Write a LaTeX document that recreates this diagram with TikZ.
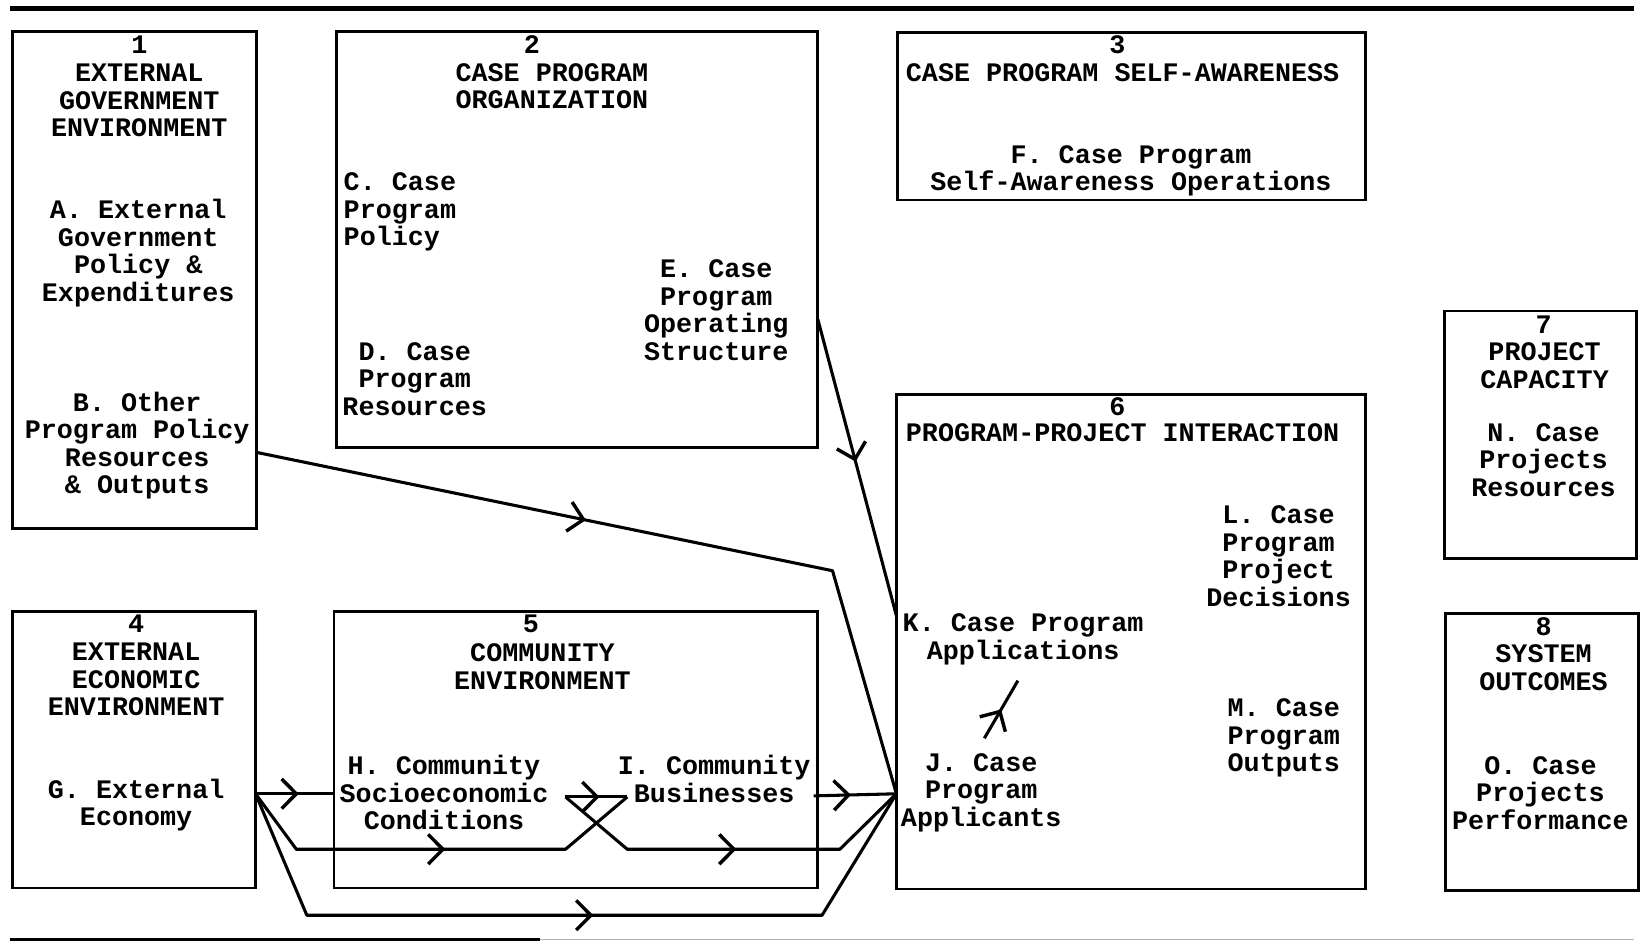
\documentclass[tikz,border=0pt]{standalone}
\usepackage{fontspec}
\setmonofont{Liberation Mono}
\usetikzlibrary{arrows.meta, positioning, calc, fit, decorations.markings}

\begin{document}
\begin{tikzpicture}[
  x=0.03cm, y=-0.03cm,
  box/.style={draw, line width=2.3pt, inner sep=0pt},
  lbl/.style={align=center, inner sep=0pt,
              font=\fontsize{21.8pt}{22.4pt}\selectfont\ttfamily\bfseries},
  flow/.style={line width=2.5pt, line join=round},
  midarrow/.style={postaction={decorate}, decoration={markings,
      mark=at position #1 with {\arrow[line width=2.8pt]{Straight Barb[length=4.2mm, width=8.5mm]}}}}
]
  \useasboundingbox (0,0) rectangle (1568,901);

  % ── Rules ──────────────────────────────────────────────────────────────────
  \draw[line width=4.5pt] (10,8) -- (1560,8);
  \draw[line width=2.5pt] (10,897) -- (516,897);
  \draw[line width=1.2pt, gray!60] (516,897) -- (1560,897);

  % ── Boxes ──────────────────────────────────────────────────────────────────
  \node[box, fit={(12,30) (245,505)}]    (box1) {};
  \node[box, fit={(321,30) (781,427)}]   (box2) {};
  \node[box, fit={(857,31) (1304,191)}]  (box3) {};
  \node[box, fit={(12,584) (244,848)}]   (box4) {};
  \node[box, fit={(319,584) (781,848)}]  (box5) {};
  \node[box, fit={(856,377) (1304,849)}] (box6) {};
  \node[box, fit={(1379,297) (1563,533)}] (box7) {};
  \node[box, fit={(1380,586) (1565,850)}] (box8) {};

  % ── Box 1 ──────────────────────────────────────────────────────────────────
  \node[lbl] (n1) at (133,43)    {1};
  \node[lbl] (t1) at (133,96)    {EXTERNAL\\GOVERNMENT\\ENVIRONMENT};
  \node[lbl] (tA) at (132,241.5) {A. External\\Government\\Policy \&\\Expenditures};
  \node[lbl] (tB) at (131,425.5) {B. Other\\Program Policy\\Resources\\\& Outputs};

  % ── Box 2 ──────────────────────────────────────────────────────────────────
  \node[lbl] (n2) at (508,43)   {2};
  \node[lbl] (t2) at (527,82.5) {CASE PROGRAM\\ORGANIZATION};
  \node[lbl, align=left, anchor=west] (tC) at (328,202.5) {C. Case\\Program\\Policy};
  \node[lbl] (tE) at (684,296)  {E. Case\\Program\\Operating\\Structure};
  \node[lbl] (tD) at (396,362)  {D. Case\\Program\\Resources};

  % ── Box 3 ──────────────────────────────────────────────────────────────────
  \node[lbl] (n3) at (1067,43)  {3};
  \node[lbl] (t3) at (1072,69)  {CASE PROGRAM SELF-AWARENESS};
  \node[lbl] (tF) at (1080,163) {F. Case Program\\Self-Awareness Operations};

  % ── Box 4 and 5 ────────────────────────────────────────────────────────────
  \node[lbl] (n4) at (130,596)   {4};
  \node[lbl] (t4) at (130,649)   {EXTERNAL\\ECONOMIC\\ENVIRONMENT};
  \node[lbl] (tG) at (130,769)   {G. External\\Economy};

  \node[lbl] (n5) at (507,596)   {5};
  \node[lbl] (t5) at (518,636.5) {COMMUNITY\\ENVIRONMENT};
  \node[lbl] (tH) at (424,757)   {H. Community\\Socioeconomic\\Conditions};
  \node[lbl] (tI) at (682,744)   {I. Community\\Businesses};

  % ── Box 6 ──────────────────────────────────────────────────────────────────
  \node[lbl] (n6) at (1067,388)  {6};
  \node[lbl] (t6) at (1072,413)  {PROGRAM-PROJECT INTERACTION};
  \node[lbl] (tL) at (1221,531)  {L. Case\\Program\\Project\\Decisions};
  \node[lbl] (tK) at (977,610.5) {K. Case Program\\Applications};
  \node[lbl] (tM) at (1226,705)  {M. Case\\Program\\Outputs};
  \node[lbl] (tJ) at (937,757)   {J. Case\\Program\\Applicants};

  % ── Box 7 and 8 ────────────────────────────────────────────────────────────
  \node[lbl] (n7) at (1474,310)  {7};
  \node[lbl] (t7) at (1475,349)  {PROJECT\\CAPACITY};
  \node[lbl] (tN) at (1474,439)  {N. Case\\Projects\\Resources};

  \node[lbl] (n8) at (1474,598)  {8};
  \node[lbl] (t8) at (1474,637.5) {SYSTEM\\OUTCOMES};
  \node[lbl] (tO) at (1471,757)  {O. Case\\Projects\\Performance};

  % ── Ports ──────────────────────────────────────────────────────────────────
  \coordinate (bOut) at (245,432);
  \coordinate (eOut) at (781,305);
  \coordinate (kIn)  at (856,588);
  \coordinate (jIn)  at (856,758);
  \coordinate (gOut) at (244,758);
  \coordinate (hIn)  at (319,758);
  \coordinate (hOut) at (540,761);
  \coordinate (iIn)  at (599,761);
  \coordinate (iOut) at (777,760);
  \coordinate (jUp)  at (940,705);
  \coordinate (kLow) at (972,650);

  % ── Flows ──────────────────────────────────────────────────────────────────
  \draw[flow, midarrow=0.41] (bOut) -- (795,545) -- (jIn);
  \draw[flow, midarrow=0.48] (eOut) -- (kIn);
  \draw[flow, midarrow=0.55] (gOut) -- (hIn);
  \draw[flow, midarrow=0.52] (gOut) -- (283,811) -- (540,811) -- (iIn);
  \draw[flow, midarrow=0.53] (gOut) -- (293,874) -- (785,874) -- (jIn);
  \draw[flow, midarrow=0.55] (hOut) -- (iIn);
  \draw[flow, midarrow=0.51] (hOut) -- (599,811) -- (802,811) -- (jIn);
  \draw[flow, midarrow=0.45] (iOut) -- (jIn);
  \draw[flow, midarrow=0.5]  (jUp) -- (kLow);
\end{tikzpicture}
\end{document}
